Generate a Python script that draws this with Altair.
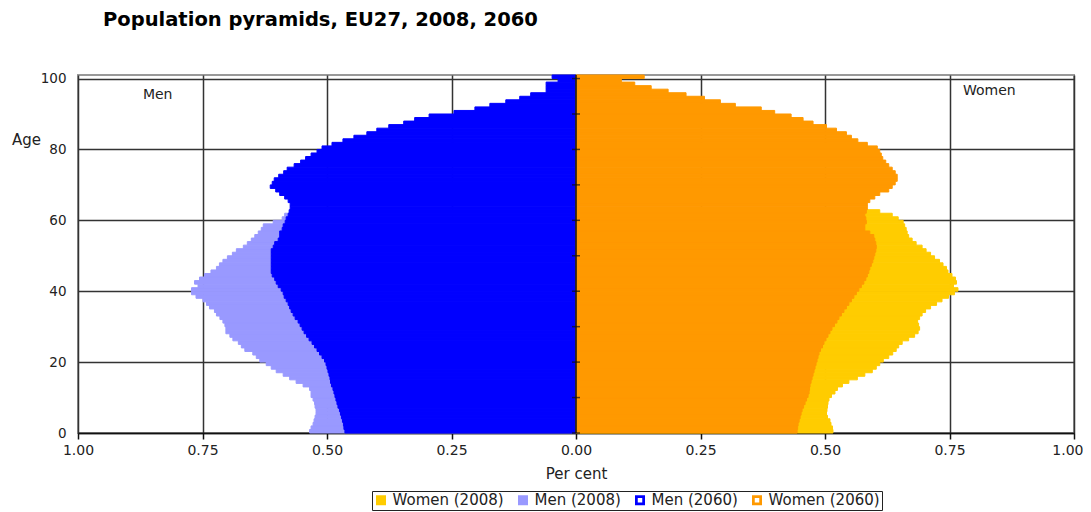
import altair as alt
import pandas as pd

# Age groups 0..100 (single years); values are per cent of total population
men_2060 = [
    0.464, 0.466, 0.467, 0.469, 0.471, 0.473, 0.475, 0.478, 0.480, 0.482,
    0.484, 0.486, 0.488, 0.491, 0.493, 0.494, 0.496, 0.498, 0.500, 0.502,
    0.505, 0.510, 0.515, 0.520, 0.525, 0.530, 0.536, 0.541, 0.546, 0.550,
    0.554, 0.558, 0.564, 0.568, 0.572, 0.575, 0.578, 0.582, 0.586, 0.588,
    0.592, 0.598, 0.602, 0.605, 0.610, 0.612, 0.612, 0.612, 0.612, 0.612,
    0.612, 0.612, 0.608, 0.605, 0.598, 0.595, 0.595, 0.590, 0.588, 0.584,
    0.582, 0.578, 0.576, 0.574, 0.574, 0.578, 0.585, 0.595, 0.603, 0.614,
    0.610, 0.606, 0.597, 0.587, 0.580, 0.566, 0.553, 0.543, 0.532, 0.520,
    0.510, 0.490, 0.468, 0.446, 0.420, 0.400, 0.376, 0.346, 0.324, 0.295,
    0.245, 0.203, 0.173, 0.141, 0.113, 0.091, 0.060, 0.060, 0.060, 0.036,
    0.048,
]
women_2060 = [
    0.444, 0.445, 0.446, 0.448, 0.450, 0.452, 0.454, 0.457, 0.460, 0.463,
    0.466, 0.468, 0.469, 0.470, 0.472, 0.474, 0.476, 0.478, 0.480, 0.482,
    0.484, 0.486, 0.488, 0.491, 0.495, 0.498, 0.502, 0.506, 0.510, 0.514,
    0.519, 0.524, 0.528, 0.533, 0.538, 0.543, 0.548, 0.553, 0.558, 0.563,
    0.568, 0.573, 0.578, 0.582, 0.585, 0.588, 0.590, 0.593, 0.596, 0.598,
    0.600, 0.602, 0.603, 0.602, 0.600, 0.598, 0.590, 0.580, 0.580, 0.583,
    0.582, 0.580, 0.583, 0.585, 0.585, 0.590, 0.600, 0.610, 0.628, 0.635,
    0.641, 0.645, 0.645, 0.641, 0.635, 0.628, 0.622, 0.616, 0.613, 0.610,
    0.605, 0.585, 0.566, 0.553, 0.543, 0.523, 0.503, 0.476, 0.456, 0.432,
    0.399, 0.372, 0.320, 0.290, 0.258, 0.221, 0.185, 0.151, 0.118, 0.091,
    0.137,
]
# 2008 values: only the ages where they show beyond the 2060 bars
men_2008 = [
    0.535, 0.532, 0.528, 0.526, 0.524, 0.522, 0.522, 0.524, 0.525, 0.528,
    0.532, 0.532, 0.535, 0.548, 0.562, 0.575, 0.588, 0.602, 0.612, 0.622,
    0.635, 0.642, 0.649, 0.665, 0.672, 0.678, 0.689, 0.695, 0.703, 0.703,
    0.705, 0.709, 0.715, 0.722, 0.726, 0.736, 0.742, 0.749, 0.763, 0.772,
    0.772, 0.759, 0.766, 0.756, 0.746, 0.733, 0.722, 0.716, 0.709, 0.700,
    0.690, 0.682, 0.668, 0.660, 0.652, 0.645, 0.638, 0.632, 0.628, 0.608,
    0.590, 0.585,
]
women_2008 = [
    0.516, 0.515, 0.512, 0.510, 0.505, 0.503, 0.504, 0.505, 0.506, 0.508,
    0.513, 0.520, 0.525, 0.535, 0.548, 0.565, 0.580, 0.595, 0.603, 0.610,
    0.617, 0.628, 0.636, 0.643, 0.648, 0.655, 0.668, 0.680, 0.687, 0.690,
    0.688, 0.686, 0.690, 0.695, 0.702, 0.712, 0.724, 0.735, 0.748, 0.760,
    0.767, 0.758, 0.764, 0.762, 0.755, 0.747, 0.744, 0.737, 0.730, 0.720,
    0.712, 0.703, 0.695, 0.683, 0.675, 0.668, 0.665, 0.663, 0.660, 0.657,
    0.647, 0.635, 0.610,
]

series_order = ["Women (2008)", "Men (2008)", "Men (2060)", "Women (2060)"]
series_colors = ["#FFCC00", "#9999FF", "#0000FF", "#FF9900"]
RING = "M-1,-1H1V1H-1Z M-0.45,-0.45V0.45H0.45V-0.45Z"
series_shapes = ["square", "square", RING, RING]
x_ticks = [-1.0, -0.75, -0.5, -0.25, 0.0, 0.25, 0.5, 0.75, 1.0]
y_ticks = [0, 10, 20, 30, 40, 50, 60, 70, 80, 90, 100]
side_labels = ["Men", "Women"]
side_x = [-0.84, 0.83]
side_age = [95.3, 96.6]

rows = []
for name, vals, sign in [("Women (2008)", women_2008, 1), ("Men (2008)", men_2008, -1),
                         ("Men (2060)", men_2060, -1), ("Women (2060)", women_2060, 1)]:
    for age, v in enumerate(vals):
        rows.append({"series": name, "age": age, "age_top": age + 1, "x0": 0.0, "x1": sign * v})
df = pd.DataFrame(rows)

FONT = "DejaVu Sans"


def make_legend():
    return alt.Legend(
        title=None, orient="none", legendX=294, legendY=416,
        direction="horizontal", symbolSize=100,
        labelFontSize=15, labelFont=FONT, labelColor="#222",
        columnPadding=11, labelOffset=4, padding=1.5,
        strokeColor="#222", symbolStrokeWidth=0)


x_enc = alt.X("x0:Q", scale=alt.Scale(domain=[-1, 1], nice=False, zero=False),
              axis=alt.Axis(values=x_ticks, labelExpr="format(abs(datum.value), '.2f')",
                            title="Per cent", grid=True, labelFlush=False,
                            labelAlign={"condition": {"test": "datum.value >= 1", "value": "right"},
                                        "value": "center"},
                            labelOffset={"condition": {"test": "datum.value >= 1", "value": 9},
                                         "value": 0}))
y_enc = alt.Y("age:Q", scale=alt.Scale(domain=[0, 101], nice=False),
              axis=alt.Axis(values=y_ticks, title="Age", grid=True, domain=False, ticks=False,
                            labelPadding=12, labelFontSize=13.5, titleFontSize=15,
                            titleAngle=0, titleX=-52, titleY=64,
                            titleAlign="center", titleBaseline="middle"))
color_enc = alt.Color("series:N", sort=series_order,
                      scale=alt.Scale(domain=series_order, range=series_colors),
                      legend=make_legend())

# hidden points (behind the bars) that give the legend its filled / outlined squares
legend_pts = alt.Chart(df[df["age"] == 50]).mark_point(filled=True, size=4, opacity=1).encode(
    x=x_enc, y=y_enc, color=color_enc,
    shape=alt.Shape("series:N", sort=series_order,
                    scale=alt.Scale(domain=series_order, range=series_shapes),
                    legend=make_legend()),
)

bars = alt.Chart(df).mark_rect(strokeWidth=1).encode(
    x=x_enc, x2="x1:Q", y=y_enc, y2="age_top:Q", color=color_enc,
    stroke=alt.Stroke("series:N", scale=alt.Scale(domain=series_order, range=series_colors),
                      legend=None),
)

zero_rule = alt.Chart(pd.DataFrame({"x": [0.0]})).mark_rule(color="#111", strokeWidth=1.5).encode(
    x="x:Q")

zero_ticks = alt.Chart(pd.DataFrame({"x": [0.0] * len(y_ticks), "age": y_ticks})).mark_tick(
    orient="horizontal", color="#111", thickness=1.5, size=8).encode(x="x:Q", y="age:Q")

side_text = alt.Chart(pd.DataFrame({"x": side_x, "age": side_age, "label": side_labels})).mark_text(
    font=FONT, fontSize=14, color="#222").encode(x="x:Q", y="age:Q", text="label:N")

chart = alt.layer(legend_pts, bars, zero_rule, zero_ticks, side_text).properties(
    width=996, height=358,
    title=alt.TitleParams("Population pyramids, EU27, 2008, 2060", anchor="start", frame="group",
                          dx=25, offset=41, fontSize=19.5, font=FONT, fontWeight="bold", color="#000"),
    autosize=alt.AutoSizeParams(type="none"),
    padding={"left": 70, "top": 67, "right": 9, "bottom": 79},
).configure_view(
    stroke="#999", strokeWidth=2
).configure_axis(
    labelFont=FONT, labelFontSize=14, labelColor="#222",
    titleFont=FONT, titleFontSize=15, titleFontWeight="normal", titleColor="#222",
    gridColor="#333", gridWidth=1.5, gridOpacity=1,
).configure_axisX(
    domainColor="#111", domainWidth=1.5, tickColor="#111", tickWidth=1.5, tickSize=6,
    labelPadding=4, titlePadding=9,
)

chart.save("out.html", embed_options={"renderer": "svg", "actions": False})
